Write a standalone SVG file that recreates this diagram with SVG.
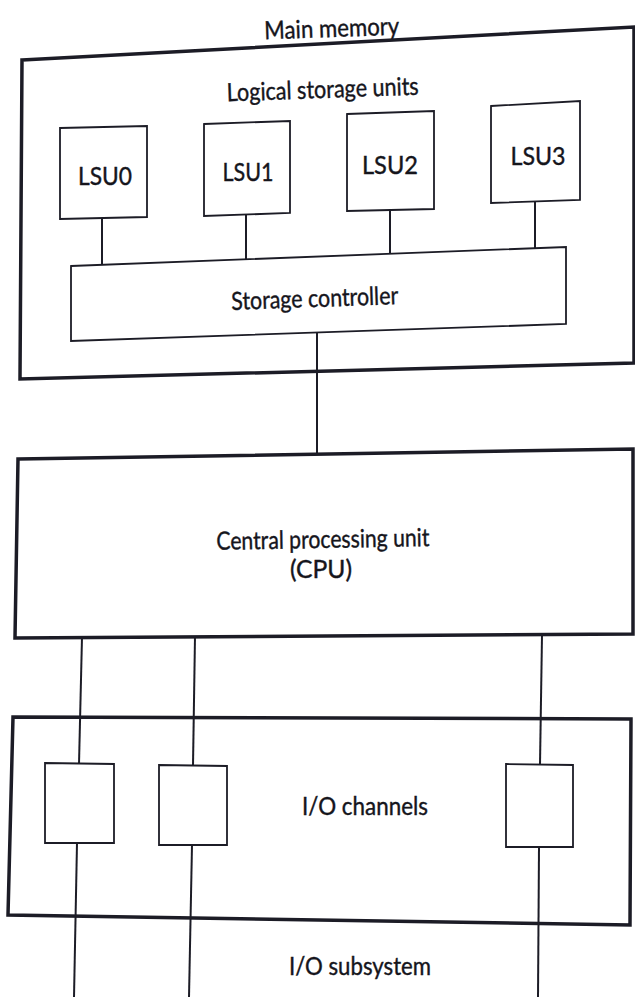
<svg xmlns="http://www.w3.org/2000/svg" width="635" height="1000" viewBox="0 0 635 1000">
  <style>
    .outer { fill: none; stroke: #1c1c26; stroke-width: 3.5; stroke-linejoin: miter; }
    .inner { fill: #ffffff; stroke: #1c1c26; stroke-width: 1.8; }
    .wire { fill: none; stroke: #1c1c26; stroke-width: 2; }
    .lbl { font-family: "Lato", "Liberation Sans", sans-serif; font-size: 25px; fill: #15151c; text-anchor: middle; stroke: #15151c; stroke-width: 0.4; }
  </style>
  <rect width="635" height="1000" fill="#ffffff"/>

  <!-- connectors -->
  <g id="connectors">
    <line class="wire" x1="102" y1="218" x2="102" y2="265"/>
    <line class="wire" x1="246" y1="215" x2="246" y2="259"/>
    <line class="wire" x1="390" y1="210" x2="390" y2="254"/>
    <line class="wire" x1="535" y1="202" x2="535" y2="248"/>
    <line class="wire" x1="317" y1="333" x2="317" y2="454"/>
    <line class="wire" x1="82" y1="637" x2="79" y2="764"/>
    <line class="wire" x1="77" y1="843" x2="74" y2="997"/>
    <line class="wire" x1="195" y1="636" x2="193" y2="766"/>
    <line class="wire" x1="192" y1="845" x2="189" y2="997"/>
    <line class="wire" x1="542" y1="635" x2="540" y2="765"/>
    <line class="wire" x1="539" y1="847" x2="538" y2="997"/>
  </g>

  <!-- main memory -->
  <g id="main-memory">
    <text class="lbl" x="332" y="37" textLength="135" lengthAdjust="spacingAndGlyphs" transform="rotate(-2 332 37)">Main memory</text>
    <polygon class="outer" points="22,60 634,27 634,363 20,379"/>
    <text class="lbl" x="323" y="98" textLength="192" lengthAdjust="spacingAndGlyphs" transform="rotate(-2 323 98)">Logical storage units</text>
  </g>

  <g id="lsu0">
    <polygon class="inner" points="60,128 147,126 147,217 60,219"/>
    <text class="lbl" x="105" y="185" textLength="54" lengthAdjust="spacingAndGlyphs">LSU0</text>
  </g>
  <g id="lsu1">
    <polygon class="inner" points="204,124 290,121 290,213 204,216"/>
    <text class="lbl" x="248" y="181" textLength="51" lengthAdjust="spacingAndGlyphs">LSU1</text>
  </g>
  <g id="lsu2">
    <polygon class="inner" points="347,114 434,111 434,209 347,211"/>
    <text class="lbl" x="390" y="174" textLength="56" lengthAdjust="spacingAndGlyphs">LSU2</text>
  </g>
  <g id="lsu3">
    <polygon class="inner" points="491,106 580,101 580,200 491,203"/>
    <text class="lbl" x="538" y="165" textLength="55" lengthAdjust="spacingAndGlyphs">LSU3</text>
  </g>

  <g id="storage-controller">
    <polygon class="inner" points="71,266 566,247 566,324 71,341"/>
    <text class="lbl" x="315" y="307" textLength="167" lengthAdjust="spacingAndGlyphs" transform="rotate(-2 315 307)">Storage controller</text>
  </g>

  <!-- CPU -->
  <g id="cpu">
    <polygon class="outer" points="18,459 633,449 633,634 15,638"/>
    <text class="lbl" x="323" y="548" textLength="213" lengthAdjust="spacingAndGlyphs" transform="rotate(-1 323 548)">Central processing unit</text>
    <text class="lbl" x="321" y="578" textLength="62" lengthAdjust="spacingAndGlyphs">(CPU)</text>
  </g>

  <!-- I/O subsystem -->
  <g id="io-subsystem">
    <polygon class="outer" points="13,717 631,719 630,925 8,915"/>
    <text class="lbl" x="360" y="975" textLength="142" lengthAdjust="spacingAndGlyphs">I/O subsystem</text>
  </g>
  <g id="io-channels">
    <text class="lbl" x="365" y="815" textLength="126" lengthAdjust="spacingAndGlyphs">I/O channels</text>
  </g>
  <g id="channel1">
    <polygon class="inner" points="45,763 114,764 114,843 45,843"/>
  </g>
  <g id="channel2">
    <polygon class="inner" points="159,765 227,766 227,845 159,845"/>
  </g>
  <g id="channel3">
    <polygon class="inner" points="506,764 573,765 573,847 506,847"/>
  </g>
</svg>
